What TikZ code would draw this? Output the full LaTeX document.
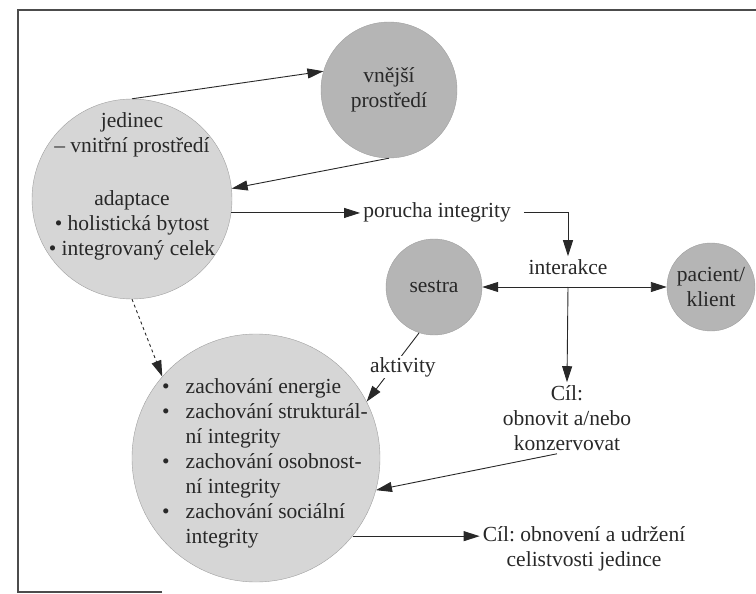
\documentclass[tikz,border=0pt]{standalone}
\usepackage{fontspec}
\setmainfont{Liberation Serif}
\frenchspacing
\usetikzlibrary{shapes,arrows.meta}
\definecolor{inkgray}{RGB}{40,40,40}
\tikzstyle{bigcircle} = [circle, draw=gray!75, fill=gray!32, inner sep=0pt]
\tikzstyle{smallcircle} = [circle, draw=gray!75, fill=gray!58, inner sep=0pt, align=center]
\tikzstyle{txt} = [align=center, inner sep=3pt]
\tikzstyle{line} = [draw=inkgray, -{Triangle[length=16pt,width=10pt]}, line width=.9pt]

\begin{document}
\begin{tikzpicture}[x=1pt, y=-1pt, text=inkgray,
    every node/.style={font=\fontsize{21.5}{25}\selectfont}]
    \useasboundingbox (0,0) rectangle (756,594);
    % frame of the scanned box
    \draw[gray!60!black, line width=1.6pt] (162,592) -- (18,592) -- (18,10) -- (756,10);

    \node [bigcircle, minimum size=200pt] (jed) at (132,199) {};
    \node [txt] (jedtext) at (132,186) {jedinec\\– vnitřní prostředí\\[28pt]adaptace\\• holistická bytost\\• integrovaný celek};
    \node [smallcircle, minimum size=136pt] (vne) at (389,90) {vnější\\prostředí};
    \node [smallcircle, minimum size=96pt] (ses) at (434,287) {sestra};
    \node [smallcircle, minimum size=88pt] (pac) at (711,287) {pacient/\\klient};
    \node [bigcircle, minimum size=248pt] (zach) at (256,458) {};
    \node [inner sep=0pt] (zachtext) at (265,463) {%
        \begin{tabular}{@{}l@{\hspace{16pt}}l@{}}
        • & zachování energie\\
        • & zachování strukturál-\\
          & ní integrity\\
        • & zachování osobnost-\\
          & ní integrity\\
        • & zachování sociální\\
          & integrity
        \end{tabular}};
    \node [txt] (porucha) at (437,212) {porucha integrity};
    \node [txt] (interakce) at (568,267) {interakce};
    \node [txt] (cil1) at (567,418) {Cíl:\\obnovit a/nebo\\konzervovat};
    \node [txt] (cil2) at (584,549) {Cíl: obnovení a udržení\\celistvosti jedince};
    \coordinate (split) at (interakce |- ses.east);

    \path [line] (jed.north) -- (vne.164);
    \path [line] (vne.south) -- (jed.6);
    \path [line] (jed.-8) -- (jed.-8 -| porucha.west);
    \path [line, shorten <=10pt] (porucha.east) -| (interakce.north);
    \path [line, {Triangle[length=16pt,width=10pt]}-{Triangle[length=16pt,width=10pt]}] (ses.east) -- (pac.west);
    \path [line] (split) -- (cil1.north);
    \path [line] ([xshift=-10pt]cil1.south) -- (zach.-15);
    \path [line] (ses.252) -- node [fill=white, inner sep=1pt, xshift=10pt] {aktivity} (zach.27);
    \path [line, dashed] (jed.south) -- (zach.139);
    \path [line] (zach.-39) -- (zach.-39 -| cil2.west);

\end{tikzpicture}
\end{document}
